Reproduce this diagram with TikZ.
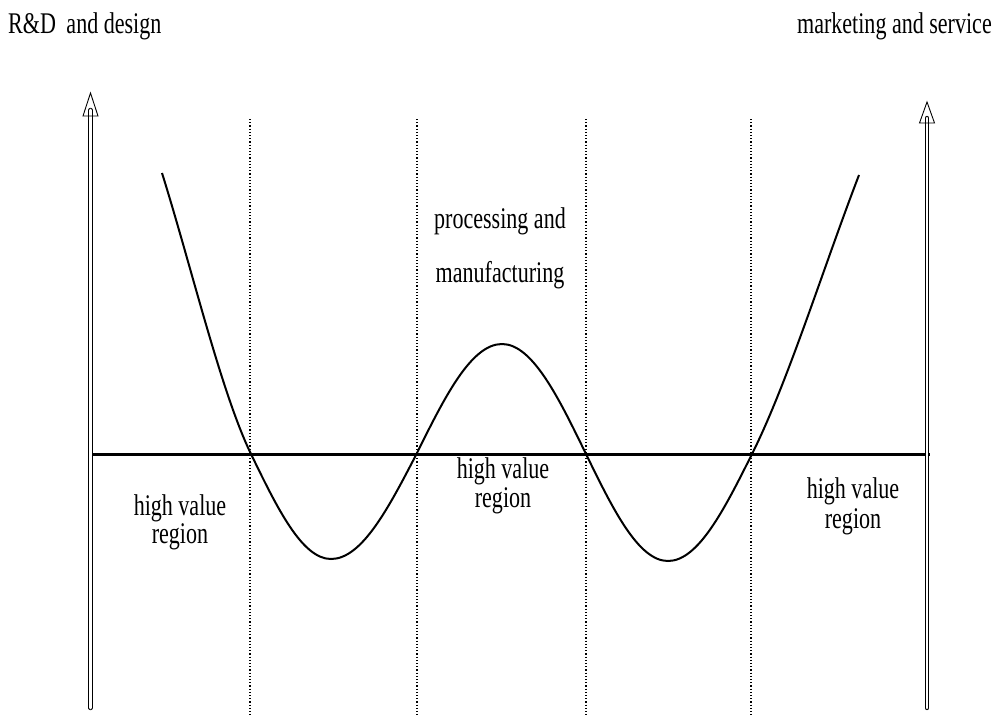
\documentclass[tikz,border=0pt]{standalone}
\usepackage{fontspec}
\setmainfont[FakeStretch=0.735]{Liberation Serif}
\begin{document}
\begin{tikzpicture}[x=1pt,y=-1pt,
  lbl/.style={inner sep=0pt,anchor=base,font=\fontsize{30pt}{35pt}\selectfont},
  axisline/.style={double,line width=0.9pt,double distance=2.6pt,line cap=round},
  headtri/.style={line width=0.9pt,line join=miter},
  baseline/.style={line width=3pt},
  divider/.style={line width=1.3pt,dash pattern=on 1.1pt off 2.1pt},
  wave/.style={line width=2pt,line join=round}]
\useasboundingbox (0,0) rectangle (1000,715);
% coordinates
\coordinate (lbot) at (90.5,708);
\coordinate (ltop) at (90.5,110);
\coordinate (ltip) at (90.5,93);
\coordinate (rbot) at (927,708);
\coordinate (rtop) at (927,118);
\coordinate (rtip) at (927,102);
\coordinate (hl) at (90,454);
\coordinate (hr) at (930,454);
% dividers
\foreach \n/\x in {d1/250,d2/417,d3/586,d4/751}{
  \coordinate (\n t) at (\x,119);
  \coordinate (\n b) at (\x,715);
  \draw[divider] (\n t) -- (\n b);
}
% horizontal axis
\draw[baseline] (hl) -- (hr);
% vertical axes
\draw[axisline] (lbot) -- (ltop);
\draw[headtri] (ltip) -- ++(-7.5,23) -- ++(15,0) -- cycle;
\draw[axisline] (rbot) -- (rtop);
\draw[headtri] (rtip) -- ++(-7.5,21) -- ++(15,0) -- cycle;
% curve
\coordinate (A) at (162,173);
\coordinate (B) at (251,454);
\coordinate (C) at (331,559);
\coordinate (D) at (416.5,454);
\coordinate (E) at (502,344);
\coordinate (F) at (586,454);
\coordinate (G) at (668,561);
\coordinate (H) at (752,454);
\coordinate (I) at (859,175);
\draw[wave] (A) .. controls (191.7,268) and (221.3,392.9) .. (B)
  .. controls (277.1,507.8) and (302,559) .. (C)
  .. controls (362,559) and (388.6,507.8) .. (D)
  .. controls (444.4,397.6) and (471,344) .. (E)
  .. controls (532.4,344) and (558.6,397.6) .. (F)
  .. controls (612.7,508.8) and (638.3,561) .. (G)
  .. controls (698.4,561) and (724.6,508.8) .. (H)
  .. controls (787.7,382.6) and (823.3,267.8) .. (I);
% labels
\node[lbl,anchor=base west] (rd) at (8,33) {R\&D\hspace{5pt} and design};
\node[lbl,anchor=base east] (ms) at (992,33) {marketing and service};
\node[lbl] (pm1) at (500,228) {processing and};
\node[lbl] (pm2) at (500,282) {manufacturing};
\node[lbl] (hv1a) at (180,515) {high value};
\node[lbl] (hv1b) at (180,543) {region};
\node[lbl] (hv2a) at (503,478) {high value};
\node[lbl] (hv2b) at (503,507) {region};
\node[lbl] (hv3a) at (853,498) {high value};
\node[lbl] (hv3b) at (853,528) {region};
\end{tikzpicture}
\end{document}
